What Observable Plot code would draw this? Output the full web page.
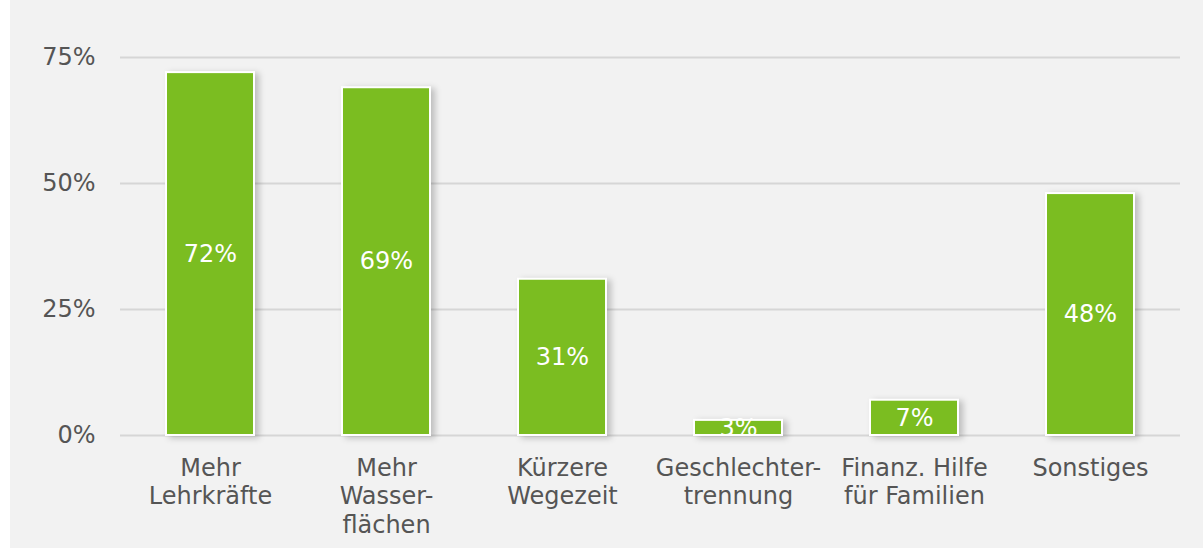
<!DOCTYPE html>
<html><head><meta charset="utf-8">
<script src="https://cdn.jsdelivr.net/npm/d3@7"></script>
<script src="https://cdn.jsdelivr.net/npm/@observablehq/plot@0.6"></script>
<style>
html,body{margin:0;padding:0;background:#fff;}
#wrap{margin-left:10px;width:1193px;height:548px;background:#f2f2f2;overflow:hidden;}
#wrap svg{background:#f2f2f2;font-family:"DejaVu Sans",sans-serif;}
g[aria-label="bar"] rect{filter:drop-shadow(4px 2px 3px rgba(0,0,0,0.22));}
</style></head>
<body><div id="wrap"></div>
<script>
const categories = ["Mehr\nLehrkräfte","Mehr\nWasser-\nflächen","Kürzere\nWegezeit","Geschlechter-\ntrennung","Finanz. Hilfe\nfür Familien","Sonstiges"];
const values = [72,69,31,3,7,48];
const yTicks = [0,25,50,75];
const data = categories.map((c,i)=>({cat:c,value:values[i]}));
const chart = Plot.plot({
  width:1193, height:548,
  marginLeft:110, marginRight:23, marginTop:57, marginBottom:113,
  style:{background:"#f2f2f2", fontSize:"24px", color:"#555"},
  x:{domain:categories, paddingInner:0.5, paddingOuter:0.25, label:null},
  y:{domain:[0,75], label:null},
  marks:[
    Plot.gridY(yTicks,{stroke:"#d6d6d6", strokeOpacity:1, strokeWidth:2}),
    Plot.axisY(yTicks,{tickSize:0, tickPadding:25, tickFormat:d=>d+"%", fontSize:24, fill:"#555", label:null}),
    Plot.axisX({tickSize:0, tickPadding:20, fontSize:24, fill:"#555", lineHeight:1.19, label:null}),
    Plot.barY(data,{x:"cat", y:"value", fill:"#7bbd21", stroke:"#fff", strokeWidth:2}),
    Plot.text(data,{x:"cat", y:d=>d.value/2, text:d=>d.value+"%", fill:"#fff", fontSize:24})
  ]
});
document.getElementById("wrap").appendChild(chart);
</script></body></html>
